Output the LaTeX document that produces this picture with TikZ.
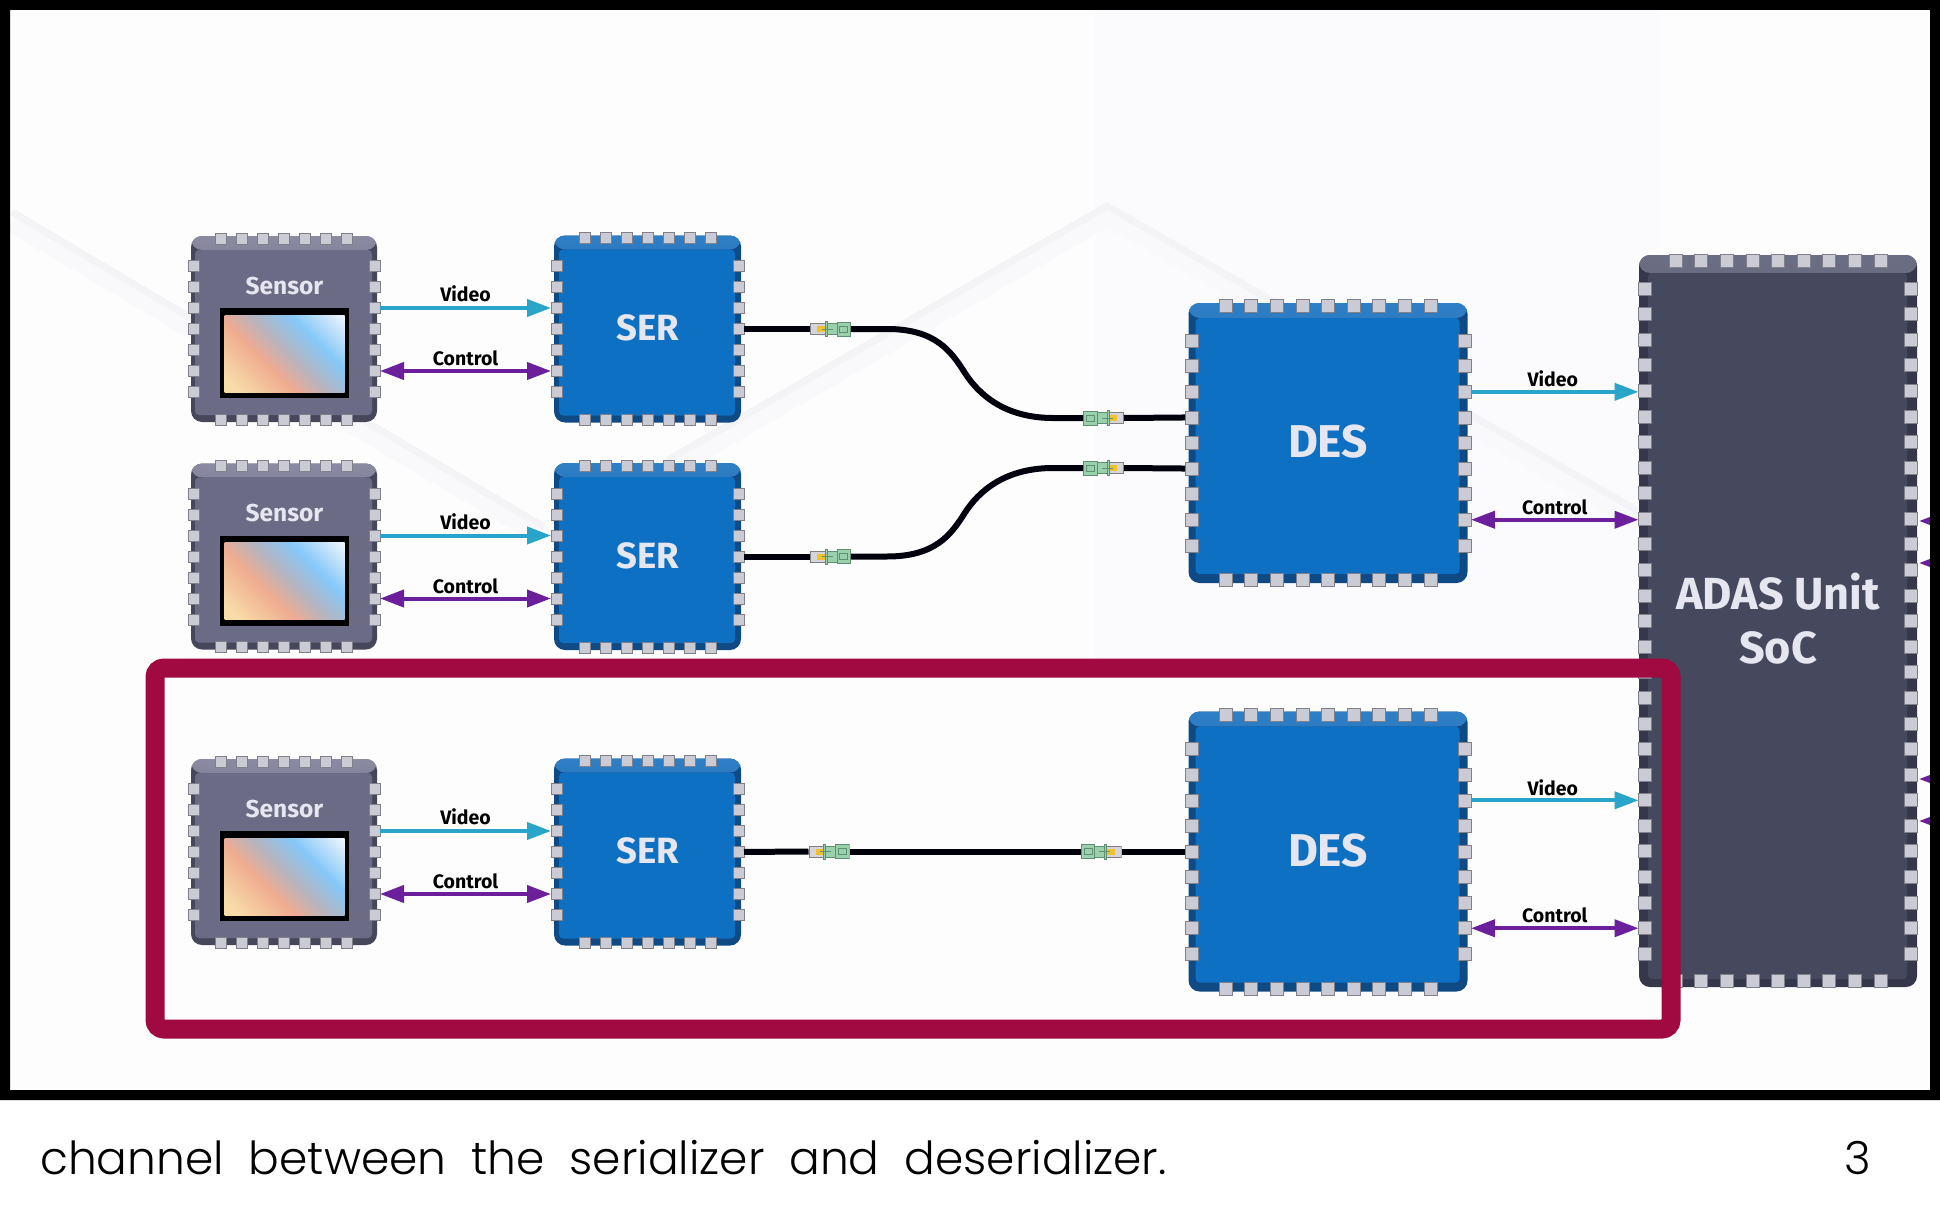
\documentclass[tikz,border=0pt]{standalone}
\usepackage{fontspec}
\setmainfont{Fira Sans}
\newfontfamily\capfont{Poppins}[UprightFont={* Light},WordSpace=2.0]
\usetikzlibrary{positioning, calc, arrows.meta}

\definecolor{senface}{HTML}{6B6B85}
\definecolor{senedge}{HTML}{47475C}
\definecolor{sentop}{HTML}{8A8AA0}
\definecolor{serface}{HTML}{0E70C2}
\definecolor{seredge}{HTML}{0F4A85}
\definecolor{sertop}{HTML}{2F7FC6}
\definecolor{socface}{HTML}{46485E}
\definecolor{socedge}{HTML}{36374A}
\definecolor{soctop}{HTML}{6B6D82}
\definecolor{pinfill}{HTML}{CBCBD6}
\definecolor{pinedge}{HTML}{80808A}
\definecolor{videoline}{HTML}{29A5C9}
\definecolor{controlline}{HTML}{6B1F9B}
\definecolor{boxred}{HTML}{A00A40}
\definecolor{pagebg}{HTML}{FDFDFE}
\definecolor{bandgray}{HTML}{F4F4F6}
\definecolor{bandlight}{HTML}{F9F9FB}
\definecolor{panelbg}{HTML}{FBFBFD}
\definecolor{chiptext}{HTML}{E6E6F0}
\definecolor{congreen}{HTML}{9AD0AC}
\definecolor{congreenedge}{HTML}{5F8F75}
\definecolor{congray}{HTML}{D4D4DA}
\definecolor{conyellow}{HTML}{EFC12F}
\definecolor{imgcream}{HTML}{F8DCA8}
\definecolor{imgsalmon}{HTML}{EFAB90}
\definecolor{imggrey}{HTML}{B5B5C0}
\definecolor{imgblue}{HTML}{85C8F8}
\definecolor{imgpale}{HTML}{EAF3FC}

\pgfdeclarehorizontalshading{imgshade}{100bp}{
  color(0bp)=(imgcream);
  color(20bp)=(imgcream);
  color(40bp)=(imgsalmon);
  color(52bp)=(imggrey);
  color(66bp)=(imgblue);
  color(84bp)=(imgpale);
  color(100bp)=(imgpale)}

\tikzset{
  chipbody/.style n args={6}{rectangle, rounded corners=11pt, outer sep=0pt, inner sep=0pt,
    minimum width=#1pt, minimum height=#2pt, fill=#3edge, text=chiptext, font=\bfseries,
    path picture={
      \shade[top color=#3top, bottom color=#3edge] (path picture bounding box.north west) rectangle
        ($(path picture bounding box.north east)+(0pt,-#5pt-2pt)$);
      \fill[#3face, rounded corners=4pt] ($(path picture bounding box.south west)+(#4pt,#6pt)$) rectangle
        ($(path picture bounding box.north east)+(-#4pt-1pt,-#5pt-2pt)$);
    }},
  chippin/.style={rectangle, minimum size=#1pt, inner sep=0pt, outer sep=0pt, fill=pinfill, draw=pinedge, line width=.6pt},
  imgframe/.style={rectangle, fill=black, minimum width=129pt, minimum height=90pt, inner sep=0pt},
  imgface/.style={rectangle, minimum width=120pt, minimum height=77pt, inner sep=0pt, shade, shading=imgshade, shading angle=45},
  videoarrow/.style={-{Triangle[length=24pt,width=17pt]}, line width=4pt, draw=videoline},
  controlarrow/.style={{Triangle[length=24pt,width=17pt]}-{Triangle[length=24pt,width=17pt]}, line width=4pt, draw=controlline},
  flowlabel/.style={font=\fontsize{19.5}{22}\bfseries\selectfont, inner sep=0pt, anchor=south, text=black},
  cable/.style={line width=6pt, draw=black!95!blue},
  conn/.style={rectangle, minimum width=41pt, minimum height=15pt, inner sep=0pt, outer sep=0pt,
    path picture={
      \begin{scope}[shift={(path picture bounding box.center)}, x=#1pt, y=1pt, draw=congreenedge, line width=.6pt]
        \filldraw[fill=congray, draw=gray] (-20.2,-5.5) rectangle (-5.5,5.5);
        \fill[conyellow] (-13.5,-3) rectangle (-5.5,3);
        \filldraw[fill=congreen] (-5.5,-7.4) rectangle (-3.5,7.4);
        \filldraw[fill=congreen] (-3.5,-5.5) rectangle (6.5,5.5);
        \filldraw[fill=congreen] (6.5,-7) rectangle (20.2,7);
        \draw (-9,0) -- (2,0) (9,-3) rectangle (17,3);
      \end{scope}
    }}
}

% pins round a chip: node, pins on top/bottom, pins on the sides, pitch, size, inset
\newcommand{\chippins}[6]{
  \foreach \i in {1,...,#2} {
    \node[chippin=#5] (#1-t\i) at ($(#1.north)+({(\i-(#2+1)/2)*#4},#6)$) {};
    \node[chippin=#5] (#1-b\i) at ($(#1.south)+({(\i-(#2+1)/2)*#4},-#6)$) {};
  }
  \foreach \i in {1,...,#3} {
    \node[chippin=#5] (#1-l\i) at ($(#1.west)+(#6,{(\i-(#3+1)/2)*#4})$) {};
    \node[chippin=#5] (#1-r\i) at ($(#1.east)+(-#6,{(\i-(#3+1)/2)*#4})$) {};
  }
}

\begin{document}
\begin{tikzpicture}[x=1pt, y=-1pt]
  \useasboundingbox (0,0) rectangle (1940,1220);
  \fill[white] (0,0) rectangle (1940,1220);
  \fill[pagebg] (10,10) rectangle (1930,1090);

  % faint backdrop
  \fill[panelbg] (1095,10) rectangle (1660,668);
  \draw[bandlight, line width=20pt] (12,222) -- (544,537);
  \draw[bandgray, line width=7pt] (12,212) -- (544,527);
  \draw[bandlight, line width=20pt] (668,470) -- (1107,216) -- (1640,522);
  \draw[bandgray, line width=7pt] (668,460) -- (1107,206) -- (1640,512);

  % chips
  \node[chipbody={186}{186}{sen}{4}{12}{7}] (sen1) at (284,329) {};
  \node[chipbody={186}{186}{sen}{4}{12}{7}] (sen2) at (284,556.5) {};
  \node[chipbody={186}{186}{sen}{4}{12}{7}] (sen3) at (284,852) {};
  \node[chipbody={187}{187}{ser}{5}{12}{7}, font=\fontsize{36.5}{40}\bfseries\selectfont, text depth=2pt] (ser1) at (647.5,329) {SER};
  \node[chipbody={187}{187}{ser}{5}{12}{7}, font=\fontsize{36.5}{40}\bfseries\selectfont, text depth=2pt] (ser2) at (647.5,556.5) {SER};
  \node[chipbody={187}{187}{ser}{5}{12}{7}, font=\fontsize{36.5}{40}\bfseries\selectfont, text depth=2pt] (ser3) at (647.5,852) {SER};
  \node[chipbody={279}{280}{ser}{7}{13}{9}, font=\fontsize{46}{50}\bfseries\selectfont, text depth=3pt] (des1) at (1328,443) {DES};
  \node[chipbody={279}{280}{ser}{7}{13}{9}, font=\fontsize{46}{50}\bfseries\selectfont, text depth=3pt] (des2) at (1328,851.5) {DES};
  \node[chipbody={278}{732}{soc}{9}{16}{8}, align=center, font=\fontsize{45}{54}\bfseries\selectfont, text depth=5pt] (soc) at (1778,621) {ADAS Unit\\SoC};

  % pins
  \chippins{sen1}{7}{7}{21}{11}{2.5}
  \chippins{sen2}{7}{7}{21}{11}{2.5}
  \chippins{sen3}{7}{7}{21}{11}{2.5}
  \chippins{ser1}{7}{7}{21}{11}{2.5}
  \chippins{ser2}{7}{7}{21}{11}{2.5}
  \chippins{ser3}{7}{7}{21}{11}{2.5}
  \chippins{des1}{9}{9}{25.58}{13}{3}
  \chippins{des2}{9}{9}{25.58}{13}{3}
  \chippins{soc}{9}{27}{25.58}{13}{6}

  % sensor windows
  \node[imgframe] (frame1) at ($(sen1)+(.5,24)$) {};
  \node[imgframe] (frame2) at ($(sen2)+(.5,24)$) {};
  \node[imgframe] (frame3) at ($(sen3)+(.5,24)$) {};
  \node[imgface] (img1) at ($(frame1)+(0,.5)$) {};
  \node[imgface] (img2) at ($(frame2)+(0,.5)$) {};
  \node[imgface] (img3) at ($(frame3)+(0,.5)$) {};
  \node[text=chiptext, font=\fontsize{24.5}{30}\bfseries\selectfont, above=9.5pt of frame1] (senlab1) {Sensor};
  \node[text=chiptext, font=\fontsize{24.5}{30}\bfseries\selectfont, above=9.5pt of frame2] (senlab2) {Sensor};
  \node[text=chiptext, font=\fontsize{24.5}{30}\bfseries\selectfont, above=9.5pt of frame3] (senlab3) {Sensor};

  % serial links
  \node[conn=1] (cab1) at (830.5,329) {};
  \node[conn=-1] (cab2) at (1103.5,418) {};
  \node[conn=1] (cab3) at (830.5,556.5) {};
  \node[conn=-1] (cab4) at (1103.5,468) {};
  \node[conn=1] (cab5) at (829,851.5) {};
  \node[conn=-1] (cab6) at (1101,851.5) {};
  \coordinate (bend1) at ($(cab1.east)!.49!(cab2.west)$);
  \coordinate (bend2) at ($(cab3.east)!.49!(cab4.west)$);
  \draw[cable] (ser1-r4) -- (cab1.west);
  \draw[cable] (cab1.east) -- ++(36,0) .. controls +(48,0) and +(-14,-22) .. (bend1) .. controls +(14,22) and +(-48,0) .. ($(cab2.west)+(-30,0)$) -- (cab2.west);
  \draw[cable] (cab2.east) -- (des1-l4);
  \draw[cable] (ser2-r4) -- (cab3.west);
  \draw[cable] (cab3.east) -- ++(36,0) .. controls +(48,0) and +(-14,22) .. (bend2) .. controls +(14,-22) and +(-48,0) .. ($(cab4.west)+(-30,0)$) -- (cab4.west);
  \draw[cable] (cab4.east) -- (des1-l6);
  \draw[cable] (ser3-r4) -- (cab5.west);
  \draw[cable] (cab5.east) -- (cab6.west);
  \draw[cable] (cab6.east) -- (des2-l5);

  % video and control
  \draw[videoarrow] (sen1-r3) -- node[flowlabel, above=4pt] (vid1) {Video} (ser1-l3);
  \draw[controlarrow] (sen1-r6) -- node[flowlabel, above=3pt] (ctl1) {Control} (ser1-l6);
  \draw[videoarrow] (sen2-r3) -- node[flowlabel, above=4pt] (vid2) {Video} (ser2-l3);
  \draw[controlarrow] (sen2-r6) -- node[flowlabel, above=3pt] (ctl2) {Control} (ser2-l6);
  \draw[videoarrow] (sen3-r3) -- node[flowlabel, above=4pt] (vid3) {Video} (ser3-l3);
  \draw[controlarrow] (sen3-r6) -- node[flowlabel, above=3pt] (ctl3) {Control} (ser3-l6);
  \draw[videoarrow] (des1-r3) -- node[flowlabel, above=3pt, xshift=-2pt] (vid4) {Video} (des1-r3 -| soc-l5.west);
  \draw[controlarrow] (des1-r8) -- node[flowlabel, above=3pt] (ctl4) {Control} (des1-r8 -| soc-l10.west);
  \draw[videoarrow] (des2-r3) -- node[flowlabel, above=3pt, xshift=-2pt] (vid5) {Video} (des2-r3 -| soc-l21.west);
  \draw[controlarrow] (des2-r8) -- node[flowlabel, above=3pt] (ctl5) {Control} (des2-r8 -| soc-l26.west);

  % arrows leaving the soc, cut by the frame
  \coordinate (out1) at (1945,521);
  \coordinate (out2) at (1945,563);
  \coordinate (out3) at (1945,779);
  \coordinate (out4) at (1945,821);
  \coordinate (tip1) at (1919,521);
  \coordinate (tip2) at (1919,563);
  \coordinate (tip3) at (1919,779);
  \coordinate (tip4) at (1919,821);
  \foreach \k in {1,...,4} \draw[controlarrow, {Triangle[length=24pt,width=17pt]}-] (tip\k) -- (out\k);

  % highlight box
  \node[draw=boxred, line width=19pt, rounded corners=9pt, minimum width=1516pt, minimum height=361pt, inner sep=0pt] (focus) at (913,848.5) {};

  % frame
  \fill[black, even odd rule] (0,0) rectangle (1940,1100) (10,10) rectangle (1930,1090);

  % caption
  \node[anchor=base west, inner sep=0pt, font=\capfont\fontsize{45.5}{50}\selectfont] (caption) at (40,1174) {channel between the serializer and deserializer.};
  \node[anchor=base east, inner sep=0pt, font=\capfont\fontsize{45.5}{50}\selectfont] (pagenum) at (1871,1174) {3};
\end{tikzpicture}
\end{document}
